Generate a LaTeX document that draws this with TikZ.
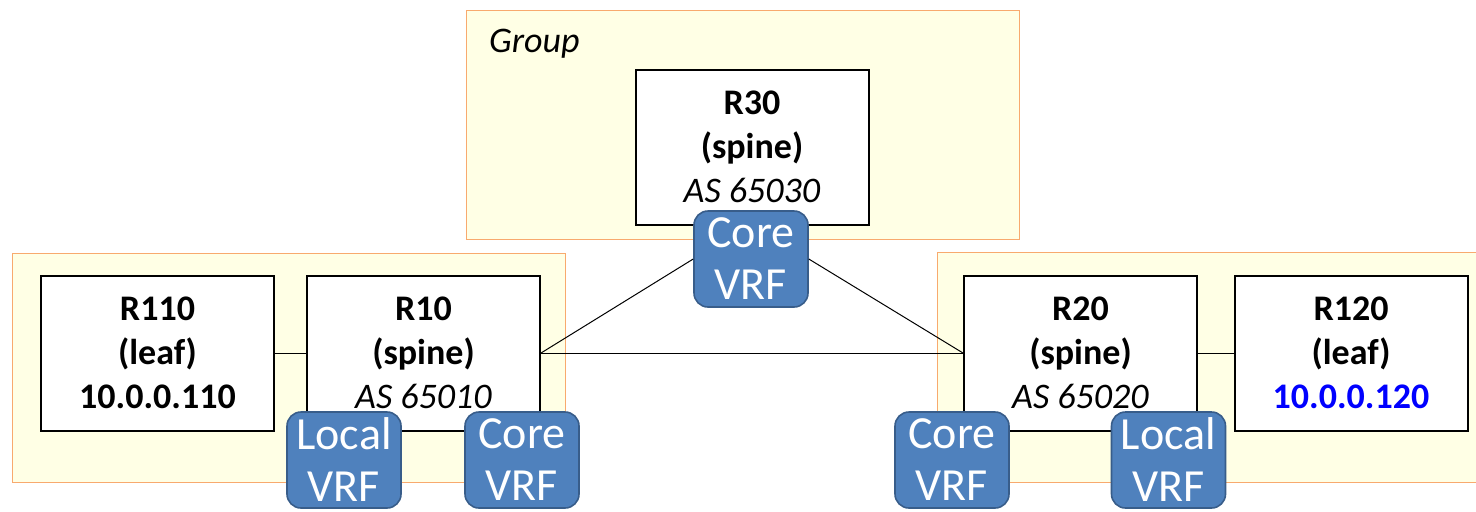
\documentclass[tikz,border=0pt]{standalone}
\usepackage{fontspec}
\setmainfont{Carlito}
\definecolor{grpfill}{RGB}{255,255,229}
\definecolor{grpline}{RGB}{248,170,110}
\definecolor{vrffill}{RGB}{79,129,189}
\definecolor{vrfline}{RGB}{56,93,138}
\definecolor{ipblue}{RGB}{0,0,255}
\tikzset{
  grp/.style={draw=grpline,fill=grpfill,line width=0.5pt},
  router/.style={draw,fill=white,line width=1pt,minimum width=116.5pt,
    minimum height=77.5pt,align=center,inner sep=0pt,
    font=\fontsize{18}{22}\selectfont},
  vrf/.style={draw=vrfline,fill=vrffill,line width=0.8pt,rounded corners=7pt,
    minimum width=57pt,minimum height=48pt,align=center,inner sep=0pt,
    text=white,font=\fontsize{23}{26}\selectfont},
  link/.style={line width=0.5pt}
}
\begin{document}
\begin{tikzpicture}[x=0.5pt,y=-0.5pt]
  \useasboundingbox (0,0) rectangle (1476,511);
  % groups
  \draw[grp] (466,10) rectangle (1019,239);
  \node (grplabel) [anchor=base west,font=\fontsize{18}{22}\selectfont\itshape]
    at (482,52) {Group};
  \draw[grp] (12,253) rectangle (565,482);
  \draw[grp] (937,252) rectangle (1490,482);
  % routers
  \node (r30) [router] at (752,147) {\textbf{R30}\\\textbf{(spine)}\\\textit{AS 65030}};
  \node (r110) [router] at (157.5,353) {\textbf{R110}\\\textbf{(leaf)}\\\textbf{10.0.0.110}};
  \node (r10) [router] at (423.5,353) {\textbf{R10}\\\textbf{(spine)}\\\textit{AS 65010}};
  \node (r20) [router] at (1080.5,353) {\textbf{R20}\\\textbf{(spine)}\\\textit{AS 65020}};
  \node (r120) [router] at (1351,353)
    {\textbf{R120}\\\textbf{(leaf)}\\\textcolor{ipblue}{\textbf{10.0.0.120}}};
  % vrfs
  \node (core30) [vrf] at (751,259) {Core\\VRF};
  \node (local10) [vrf] at (344,460) {Local\\VRF};
  \node (core10) [vrf] at (522,460) {Core\\VRF};
  \node (core20) [vrf] at (952,460) {Core\\VRF};
  \node (local20) [vrf] at (1168.5,460) {Local\\VRF};
  % links
  \draw[link] (r110.east) -- (r10.west);
  \draw[link] (r10.east) -- (r20.west);
  \draw[link] (r10.east) -- (core30.west);
  \draw[link] (core30.east) -- (r20.west);
  \draw[link] (r20.east) -- (r120.west);
\end{tikzpicture}
\end{document}
